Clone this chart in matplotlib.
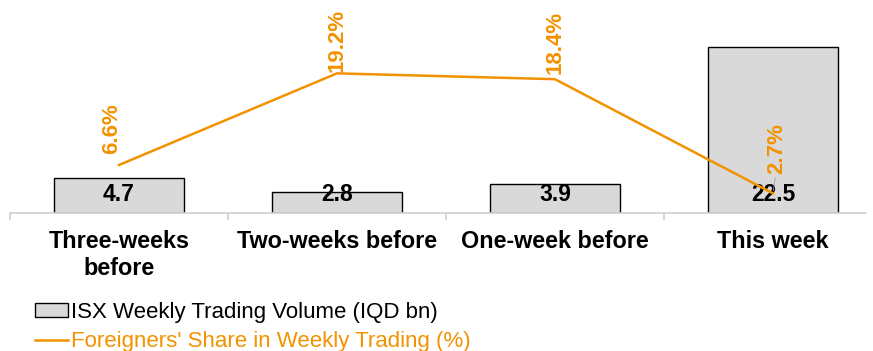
import matplotlib
matplotlib.use("Agg")
import matplotlib.pyplot as plt
from matplotlib.lines import Line2D
from matplotlib.patches import Patch

plt.rcParams["font.family"] = ["Liberation Sans", "DejaVu Sans"]

categories = ["Three-weeks\nbefore", "Two-weeks before", "One-week before", "This week"]
volume = [4.7, 2.8, 3.9, 22.5]          # IQD bn
foreign_share = [6.6, 19.2, 18.4, 2.7]  # %

# offsets (points) for the share labels, last one is lifted above the bar label
share_label_dy = [8, 1, 4, 14]
share_label_dx = [-5, 0, 0, 3]

ORANGE = "#F39200"
GREY = "#D9D9D9"

fig = plt.figure(figsize=(8.73, 3.51), dpi=100)
ax = fig.add_axes([10 / 873, 1 - 213 / 351, 856 / 873, 208 / 351])
x = list(range(len(categories)))

ax.bar(x, volume, width=0.6, color=GREY, edgecolor="black", linewidth=1.0, zorder=2)
ax.set_xlim(-0.5, 3.427)
ax.set_ylim(0, 28.2)

for xi, v in zip(x, volume):
    ax.annotate(f"{v:.1f}", (xi, 0), xytext=(0, 13), textcoords="offset points",
                ha="center", va="center", fontsize=16.5, fontweight="bold", zorder=5)

for s in ["top", "right", "left"]:
    ax.spines[s].set_visible(False)
ax.spines["bottom"].set_color("#D0D0D0")
ax.spines["bottom"].set_linewidth(1.2)
ax.set_yticks([])
ax.set_xticks(x)
ax.set_xticklabels(categories, fontsize=16.8, fontweight="bold")
ax.tick_params(axis="x", which="major", length=0, pad=12.5)
ax.set_xticks([-0.5, 0.5, 1.5, 2.5], minor=True)
ax.tick_params(axis="x", which="minor", length=5, color="#D0D0D0", width=1.2)

ax2 = ax.twinx()
ax2.plot(x, foreign_share, color=ORANGE, linewidth=1.8, zorder=3)
ax2.set_ylim(0, 28.6)
ax2.axis("off")

for i, (xi, s) in enumerate(zip(x, foreign_share)):
    ax2.annotate(f"{s:.1f}%", (xi, s), xytext=(share_label_dx[i], share_label_dy[i]),
                 textcoords="offset points", ha="center", va="bottom", rotation=90,
                 fontsize=16, fontweight="bold", color=ORANGE)

# leader line from the last share label down to its point
ax2.annotate("", (x[-1], foreign_share[-1]), xytext=(2, 13), textcoords="offset points",
             arrowprops=dict(arrowstyle="-", color="#A0A0A0", linewidth=0.6))

handles = [Patch(facecolor=GREY, edgecolor="black", linewidth=1.0),
           Line2D([0], [0], color=ORANGE, linewidth=1.8)]
labels = ["ISX Weekly Trading Volume (IQD bn)", "Foreigners' Share in Weekly Trading (%)"]
leg = fig.legend(handles, labels, loc="upper left", bbox_to_anchor=(35 / 873, 1 - 302 / 351),
                 frameon=False, fontsize=16, handlelength=1.5, handleheight=0.55,
                 handletextpad=0.1, labelspacing=0.35, borderpad=0, borderaxespad=0)
leg.get_texts()[1].set_color(ORANGE)

fig.savefig("out.png", dpi=100)
